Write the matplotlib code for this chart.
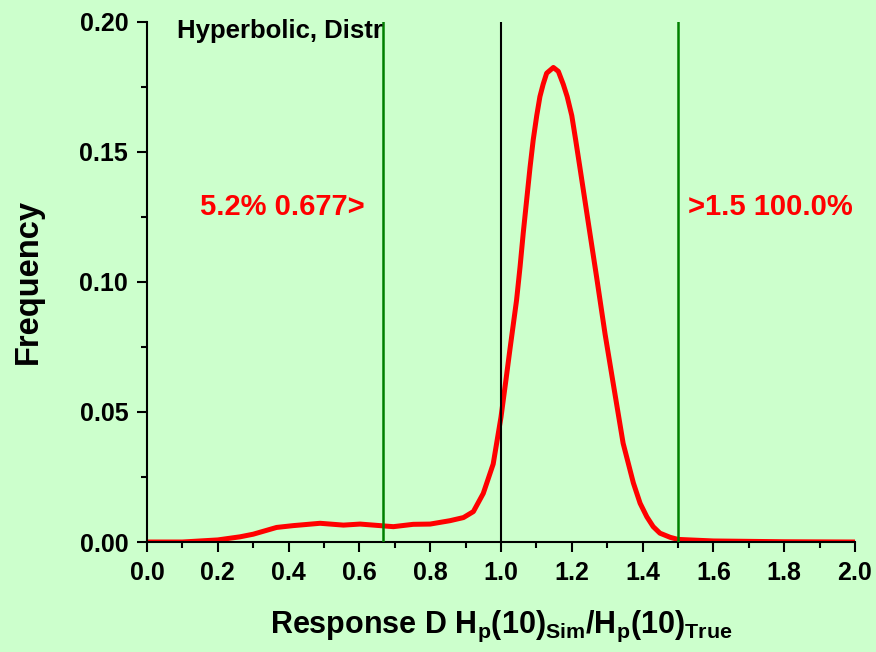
import matplotlib
matplotlib.use("Agg")
import matplotlib.pyplot as plt
from matplotlib.ticker import MultipleLocator
import numpy as np

plt.rcParams['font.family'] = ['Liberation Sans', 'DejaVu Sans']
plt.rcParams['font.weight'] = 'bold'
plt.rcParams['mathtext.fontset'] = 'custom'
plt.rcParams['mathtext.rm'] = 'Liberation Sans:bold'
plt.rcParams['mathtext.it'] = 'Liberation Sans:bold'
plt.rcParams['mathtext.bf'] = 'Liberation Sans:bold'
plt.rcParams['mathtext.default'] = 'rm'

# response ratio vs frequency
ratio = [0.0, 0.1, 0.2, 0.263, 0.30, 0.366, 0.413, 0.489, 0.555, 0.602,
         0.696, 0.752, 0.80, 0.856, 0.894, 0.922, 0.95, 0.978, 1.0, 1.014,
         1.025, 1.044, 1.054, 1.063, 1.082, 1.091, 1.101, 1.110, 1.119,
         1.129, 1.148, 1.162, 1.176, 1.187, 1.20, 1.211,
         1.223, 1.247, 1.27, 1.294, 1.317, 1.345, 1.374, 1.393, 1.412,
         1.430, 1.449, 1.478, 1.5, 1.6, 1.8, 2.0]
freq = [0.0, 0.0, 0.0008, 0.002, 0.003, 0.0056, 0.0063, 0.0072, 0.0065, 0.0069,
        0.0059, 0.0068, 0.0069, 0.0082, 0.0094, 0.0117, 0.0187, 0.030, 0.048, 0.0623,
        0.0738, 0.093, 0.106, 0.119, 0.144, 0.1546, 0.164, 0.1713, 0.176,
        0.1803, 0.1825, 0.181, 0.176, 0.1713, 0.164, 0.1546,
        0.144, 0.1225, 0.102, 0.080, 0.061, 0.038, 0.0227, 0.0149, 0.0097,
        0.0059, 0.0034, 0.0018, 0.001, 0.0004, 0.0001, 0.0]

lower_limit = 0.667
upper_limit = 1.5
true_value = 1.0
lower_text = "5.2% 0.677>"
upper_text = ">1.5 100.0%"
title_text = "Hyperbolic, Distr"

bg = '#CCFFCC'
fig = plt.figure(figsize=(8.76, 6.52), dpi=100, facecolor=bg)
ax = fig.add_axes([0.1678, 0.1687, 0.8082, 0.7976], facecolor=bg)

ax.plot(ratio, freq, color='red', lw=3.6, solid_capstyle='round',
        solid_joinstyle='round', zorder=2)
ax.axvline(true_value, color='black', lw=1.5, zorder=3)
ax.axvline(lower_limit, color='#008000', lw=1.8, zorder=3)
ax.axvline(upper_limit, color='#008000', lw=1.8, zorder=3)

ax.set_xlim(0, 2.0)
ax.set_ylim(0, 0.20)
ax.xaxis.set_major_locator(MultipleLocator(0.2))
ax.xaxis.set_minor_locator(MultipleLocator(0.1))
ax.yaxis.set_major_locator(MultipleLocator(0.05))
ax.yaxis.set_minor_locator(MultipleLocator(0.025))
ax.xaxis.set_major_formatter(matplotlib.ticker.FormatStrFormatter('%.1f'))
ax.yaxis.set_major_formatter(matplotlib.ticker.FormatStrFormatter('%.2f'))

for s in ['top', 'right']:
    ax.spines[s].set_visible(False)
for s in ['left', 'bottom']:
    ax.spines[s].set_linewidth(1.5)
ax.tick_params(which='major', direction='out', length=7.5, width=1.5,
               labelsize=18, pad=6)
ax.tick_params(which='minor', direction='out', length=4, width=1.5)

ax.set_ylabel('Frequency', fontsize=23.5, fontweight='bold', labelpad=26)
ax.set_xlabel(r'Response D H$_{p}$(10)$_{Sim}$/H$_{p}$(10)$_{True}$',
              fontsize=22, fontweight='bold', labelpad=17)

ax.text(0.085, 0.1938, title_text, fontsize=18.5, fontweight='bold',
        color='black', va='baseline', ha='left')
ax.text(0.616, 0.1256, lower_text, fontsize=21, fontweight='bold',
        color='red', va='baseline', ha='right')
ax.text(1.528, 0.1256, upper_text, fontsize=21, fontweight='bold',
        color='red', va='baseline', ha='left')

fig.savefig('out.png', dpi=100, facecolor=bg)
